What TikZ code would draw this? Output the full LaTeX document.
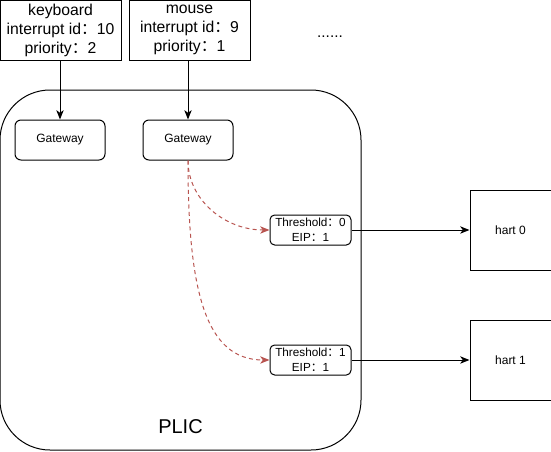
\documentclass[tikz,border=0pt]{standalone}
\usepackage{fontspec}
\setmainfont{Liberation Sans}
\newfontfamily\cjk{Noto Sans CJK SC}
\usetikzlibrary{arrows.meta}
\newcommand{\fc}{{\cjk ：}}
\begin{document}
\begin{tikzpicture}[x=0.75pt,y=-0.75pt,
  box/.style={draw,line width=0.75pt,inner sep=0pt,align=center},
  src/.style={box,minimum width=90.75pt,minimum height=45pt,font=\fontsize{11.8}{14.25}\selectfont},
  gw/.style={box,rounded corners=4.5pt,minimum width=67.5pt,minimum height=30pt,font=\fontsize{9}{10}\selectfont},
  thr/.style={box,rounded corners=3.5pt,minimum width=60.75pt,minimum height=22.5pt,font=\fontsize{8.8}{11.25}\selectfont},
  hart/.style={box,minimum width=60.75pt,minimum height=60pt,font=\fontsize{9}{10}\selectfont},
  arr/.style={line width=0.75pt,-{Stealth[length=7pt,width=5.5pt,inset=2pt]}},
  rarr/.style={line width=0.75pt,draw={rgb,255:red,184;green,84;blue,80},dash pattern=on 3pt off 2.5pt,-{Stealth[length=7pt,width=5.5pt,inset=2pt,fill={rgb,255:red,184;green,84;blue,80}]}}
]
\useasboundingbox (0,0) rectangle (551,451);
\node[box,rounded corners=37.5pt,minimum width=270.75pt,minimum height=270pt] (plic) at (180.5,270) {};
\node[font=\fontsize{15}{18}\selectfont] (plicl) at (180.5,427) {PLIC};
\node[src] (kb) at (60.5,30) {keyboard\\interrupt id\fc 10\\priority\fc 2};
\node[src] (ms) at (189.5,30) {mouse\\interrupt id\fc 9\\priority\fc 1};
\node[font=\fontsize{11.5}{12}\selectfont] (dots) at (330,37) {......};
\node[gw] (g1) at (60,140) {Gateway};
\node[gw] (g2) at (188,140) {Gateway};
\node[thr] (t0) at (310.5,230) {Threshold\fc 0\\EIP\fc 1};
\node[thr] (t1) at (310.5,360) {Threshold\fc 1\\EIP\fc 1};
\node[hart] (h0) at (510.5,230) {hart 0};
\node[hart] (h1) at (510.5,360) {hart 1};
\draw[arr] (g1.north |- kb.south) -- (g1.north);
\draw[arr] (g2.north |- ms.south) -- (g2.north);
\draw[arr] (t0.east) -- (h0.west);
\draw[arr] (t1.east) -- (h1.west);
\draw[rarr] (g2.south) .. controls (188,200) and (225,230) .. (t0.west);
\draw[rarr] (g2.south) .. controls (188,290) and (205,360) .. (t1.west);
\end{tikzpicture}
\end{document}
